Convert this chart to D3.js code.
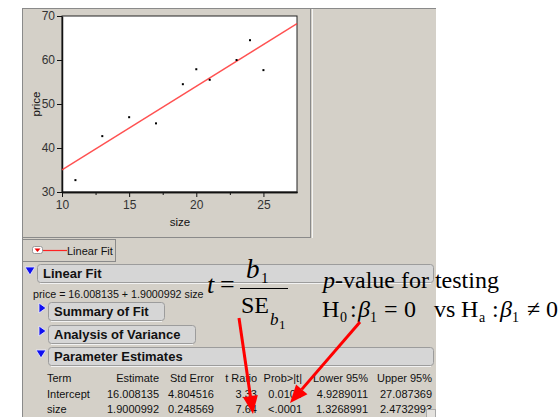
<!DOCTYPE html>
<html lang="en">
<head>
<meta charset="UTF-8">
<title>Linear Fit - price by size</title>
<script src="https://cdnjs.cloudflare.com/ajax/libs/d3/7.8.5/d3.min.js"></script>
<style>
    body { margin: 0; background: #fff; }
    svg { display: block; }
    .ui { font-family: "Liberation Sans", Arial, sans-serif; fill: #111; }
    .axis text { font-family: "Liberation Sans", Arial, sans-serif; font-size: 12px; fill: #333; }
    .axis path, .axis line { stroke: #111; }
    .math { font-family: "Liberation Serif", "Times New Roman", serif; fill: #000; }
</style>
</head>
<body>
<div id="chart"></div>
<script>
    // data
    const sizes = [11, 13, 15, 17, 19, 20, 21, 23, 24, 25];
    const prices = [32.7, 42.7, 47.0, 45.6, 54.5, 57.9, 55.5, 60.0, 64.5, 57.7];
    const fitCoef = [16.008135, 1.9000992]; // intercept, slope
    const xTicks = [10, 15, 20, 25];
    const xMinor = [12.5, 17.5, 22.5];
    const yTicks = [30, 40, 50, 60, 70];

    const fitText = "price = 16.008135 + 1.9000992 size";
    const outlineHeads = ["Summary of Fit", "Analysis of Variance"];
    const tableCols = ["Term", "Estimate", "Std Error", "t Ratio", "Prob>|t|", "Lower 95%", "Upper 95%"];
    const tableRows = [
        ["Intercept", "16.008135", "4.804516", "3.33", "0.0104", "4.9289011", "27.087369"],
        ["size", "1.9000992", "0.248569", "7.64", "<.0001", "1.3268991", "2.4732993"]
    ];

    const W = 560, H = 417;
    const svg = d3.select('#chart').append('svg')
        .attr('width', W).attr('height', H);

    // gray report panel
    svg.append('rect').attr('x', 22).attr('y', 8).attr('width', 414).attr('height', 409)
        .attr('fill', '#d4d0c8');
    svg.append('path').attr('d', 'M22.5,417V8.5H436').attr('fill', 'none').attr('stroke', '#8a8a8a');

    // plot frame
    svg.append('rect').attr('x', 22.5).attr('y', 8.5).attr('width', 288).attr('height', 229)
        .attr('fill', 'none').attr('stroke', '#8a8a8a');
    svg.append('line').attr('x1', 312.5).attr('x2', 312.5).attr('y1', 9).attr('y2', 238)
        .attr('stroke', '#f4f4f4');

    const x = d3.scaleLinear().domain([10, 27.5]).range([62, 297]);
    const y = d3.scaleLinear().domain([30, 70]).range([192, 16]);

    svg.append('rect').attr('x', x(10)).attr('y', y(70))
        .attr('width', x(27.5) - x(10)).attr('height', y(30) - y(70))
        .attr('fill', '#fff').attr('stroke', '#222');

    svg.append('g').attr('class', 'axis')
        .attr('transform', `translate(${x(10)},0)`)
        .call(d3.axisLeft(y).tickValues(yTicks).tickSize(5).tickPadding(2).tickSizeOuter(0));
    svg.append('g').attr('class', 'axis')
        .attr('transform', `translate(0,${y(30)})`)
        .call(d3.axisBottom(x).tickValues(xTicks).tickSize(5).tickPadding(3).tickSizeOuter(0));
    svg.append('g').attr('class', 'axis')
        .attr('transform', `translate(0,${y(30)})`)
        .call(d3.axisBottom(x).tickValues(xMinor).tickSize(3).tickFormat('').tickSizeOuter(0));
    svg.selectAll('.axis .domain').attr('stroke-width', 1.5);

    svg.append('text').attr('class', 'ui').attr('x', 180).attr('y', 226)
        .attr('text-anchor', 'middle').attr('font-size', 11.5).attr('fill', '#333').text('size');
    svg.append('text').attr('class', 'ui')
        .attr('transform', 'translate(40,104) rotate(-90)')
        .attr('text-anchor', 'middle').attr('font-size', 11.5).attr('fill', '#333').text('price');

    // fitted line
    const fitLine = d3.line().x(d => x(d)).y(d => y(fitCoef[0] + fitCoef[1] * d));
    svg.append('path').datum(x.domain()).attr('d', fitLine)
        .attr('fill', 'none').attr('stroke', '#f33').attr('stroke-width', 1.4).attr('opacity', 0.85);

    svg.append('g').selectAll('rect').data(sizes).enter().append('rect')
        .attr('x', (d) => x(d) - 1).attr('y', (d, i) => y(prices[i]) - 1)
        .attr('width', 2).attr('height', 2).attr('fill', '#000');

    // legend box
    svg.append('rect').attr('x', 22.5).attr('y', 239.5).attr('width', 93).attr('height', 22)
        .attr('fill', '#d4d0c8').attr('stroke', '#8a8a8a');
    svg.append('rect').attr('x', 32.5).attr('y', 246.5).attr('width', 10).attr('height', 7).attr('rx', 2)
        .attr('fill', '#fff').attr('stroke', '#999');
    svg.append('path').attr('d', 'M34.5,248.5H40.5L37.5,252Z').attr('fill', '#e00');
    svg.append('line').attr('x1', 43).attr('x2', 67).attr('y1', 250.5).attr('y2', 250.5)
        .attr('stroke', '#f22').attr('stroke-width', 1.2);
    svg.append('text').attr('class', 'ui').attr('x', 67).attr('y', 255).attr('font-size', 11)
        .text('Linear Fit');

    function triDown(cx, cy) {
        svg.append('path').attr('d', `M${cx - 5},${cy - 4}H${cx + 5}L${cx},${cy + 4}Z`)
            .attr('fill', '#1010f0').attr('stroke', '#eef').attr('stroke-width', 0.8);
    }
    function triRight(cx, cy) {
        svg.append('path').attr('d', `M${cx - 3},${cy - 5}V${cy + 5}L${cx + 4},${cy}Z`)
            .attr('fill', '#1010f0').attr('stroke', '#eef').attr('stroke-width', 0.8);
    }
    function header(x0, y0, w, label) {
        svg.append('rect').attr('x', x0 + 0.5).attr('y', y0 + 0.5).attr('width', w).attr('height', 18)
            .attr('rx', 3).attr('fill', '#d6d6d6').attr('stroke', '#9c9c9c');
        svg.append('line').attr('x1', x0 + 3).attr('x2', x0 + w - 2).attr('y1', y0 + 19.5).attr('y2', y0 + 19.5)
            .attr('stroke', '#f2f2f2');
        svg.append('text').attr('class', 'ui').attr('x', x0 + 6).attr('y', y0 + 14)
            .attr('font-size', 13).attr('font-weight', 'bold').text(label);
    }

    triDown(30, 271);
    header(37, 264, 396, 'Linear Fit');
    svg.append('text').attr('class', 'ui').attr('x', 33).attr('y', 298).attr('font-size', 10.7)
        .text(fitText);

    outlineHeads.forEach((h, i) => {
        const y0 = 302 + i * 23;
        triRight(42, y0 + 6);
        header(48, y0, i === 0 ? 116 : 147, h);
    });
    triDown(41, 354);
    header(48, 347, 385, 'Parameter Estimates');

    // parameter table
    const colX = [47, 159, 214, 257, 302, 368, 432];
    const table = svg.append('g').attr('class', 'ui').attr('font-size', 11);
    [tableCols].concat(tableRows).forEach((row, r) => {
        row.forEach((cell, c) => {
            table.append('text').attr('x', colX[c]).attr('y', 382 + r * 15.5)
                .attr('text-anchor', c === 0 ? 'start' : 'end')
                .text(cell);
        });
    });
    // scroll corner
    svg.append('rect').attr('x', 426.5).attr('y', 409.5).attr('width', 9).attr('height', 8)
        .attr('fill', '#e4e2de').attr('stroke', '#a8a8a8');

    // annotations: t statistic
    const m = svg.append('g').attr('class', 'math');
    m.append('text').attr('x', 207).attr('y', 293).attr('font-size', 26).attr('font-style', 'italic').text('t');
    m.append('text').attr('x', 220).attr('y', 293).attr('font-size', 26).text('=');
    m.append('line').attr('x1', 240).attr('x2', 288).attr('y1', 288.5).attr('y2', 288.5)
        .attr('stroke', '#000').attr('stroke-width', 1.2);
    m.append('text').attr('x', 246).attr('y', 278).attr('font-size', 27).attr('font-style', 'italic').text('b');
    m.append('text').attr('x', 261).attr('y', 283).attr('font-size', 15).text('1');
    m.append('text').attr('x', 241).attr('y', 313).attr('font-size', 24).text('SE');
    m.append('text').attr('x', 270).attr('y', 325).attr('font-size', 17).attr('font-style', 'italic').text('b');
    m.append('text').attr('x', 279).attr('y', 329).attr('font-size', 13).text('1');

    // annotations: p-value
    const p1 = m.append('text').attr('x', 323).attr('y', 288).attr('font-size', 24);
    p1.append('tspan').attr('font-style', 'italic').text('p');
    p1.append('tspan').text('-value for testing');
    const hyp = [
        ['H', 322, 24, 0, 'normal'], ['0', 340, 14, 5, 'normal'], [':', 350, 24, 0, 'normal'],
        ['β', 358, 24, 0, 'italic'], ['1', 370, 14, 5, 'normal'], ['=', 384, 24, 0, 'normal'],
        ['0', 404, 24, 0, 'normal'],
        ['vs', 434, 24, 0, 'normal'], ['H', 461, 24, 0, 'normal'], ['a', 479, 14, 5, 'normal'],
        [':', 492, 24, 0, 'normal'], ['β', 500, 24, 0, 'italic'], ['1', 512, 14, 5, 'normal'],
        ['≠', 527, 24, 0, 'normal'], ['0', 546, 24, 0, 'normal']
    ];
    hyp.forEach(d => {
        m.append('text').attr('x', d[1]).attr('y', 317 + d[3]).attr('font-size', d[2])
            .attr('font-style', d[4]).text(d[0]);
    });

    // arrows
    function arrow(x1, y1, x2, y2) {
        const a = Math.atan2(y2 - y1, x2 - x1), len = 18, hw = 7.5;
        const bx = x2 - len * Math.cos(a), by = y2 - len * Math.sin(a);
        svg.append('line').attr('x1', x1).attr('y1', y1).attr('x2', bx).attr('y2', by)
            .attr('stroke', '#f00').attr('stroke-width', 3);
        const px = -Math.sin(a) * hw, py = Math.cos(a) * hw;
        svg.append('path')
            .attr('d', `M${x2},${y2}L${bx + px},${by + py}L${bx - px},${by - py}Z`)
            .attr('fill', '#f00');
    }
    arrow(239, 318, 253, 414);
    arrow(360, 322, 290, 403);
</script>
</body>
</html>
